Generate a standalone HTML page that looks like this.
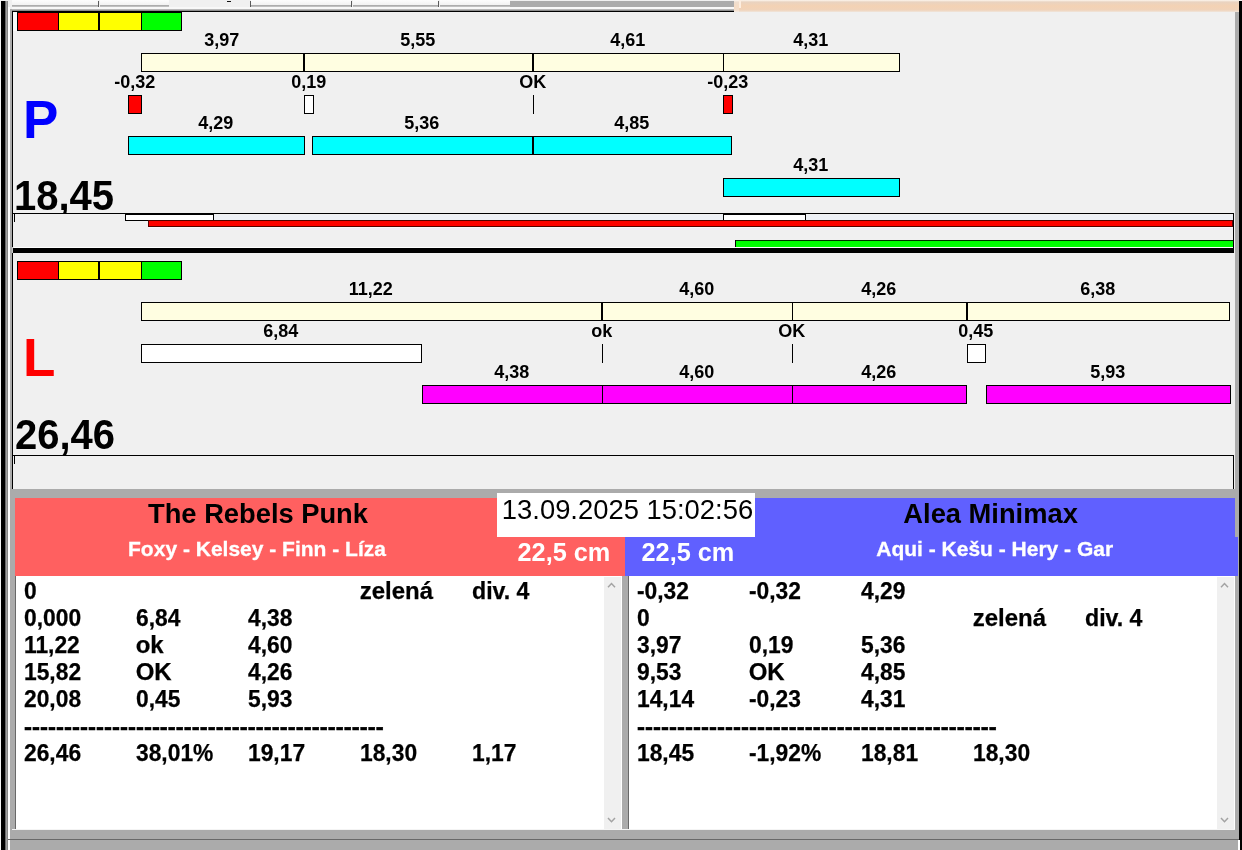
<!DOCTYPE html>
<html><head><meta charset="utf-8"><title>Flyball</title>
<style>
html,body{margin:0;padding:0}
body{width:1242px;height:850px;overflow:hidden;background:#f0f0f0;position:relative;font-family:"Liberation Sans",sans-serif;color:#000}
.a{position:absolute;box-sizing:content-box;white-space:nowrap}
.lb{font-weight:bold;font-size:18px;line-height:20px;text-align:center}
.big{font-weight:bold;font-size:53px;line-height:54px}
.tot{font-weight:bold;font-size:40px;line-height:44px;transform:scaleY(1.05);transform-origin:50% 60%}
.date{font-size:27.4px;line-height:34px}
.team{font-weight:bold;font-size:27.3px;line-height:32px}
.dogs{font-weight:bold;font-size:21px;line-height:24px;color:#fff;-webkit-text-stroke:0.3px #fff}

.cm{font-weight:bold;font-size:25.3px;line-height:28px;color:#fff}
.li{font-weight:bold;font-size:24px;line-height:27px;-webkit-text-stroke:0.25px #000}
.ds{-webkit-text-stroke:0.5px #000;margin-top:1px}
.nm{transform:scaleX(.95);transform-origin:0 0}
.nd{transform:scaleX(.965);transform-origin:0 0}
</style></head><body>
<div class="a" style="left:0px;top:0px;width:1242px;height:13px;background:#f0f0f0"></div>
<div class="a" style="left:12px;top:0;width:86px;height:5px;background:linear-gradient(#fdfdfd,#f2f2f2)"></div>
<div class="a" style="left:12px;top:5px;width:86px;height:1px;background:#adadad"></div>
<div class="a" style="left:12px;top:6px;width:86px;height:1px;background:#c0c0c0"></div>
<div class="a" style="left:100px;top:0;width:69px;height:5px;background:linear-gradient(#fdfdfd,#f2f2f2)"></div>
<div class="a" style="left:100px;top:5px;width:69px;height:1px;background:#adadad"></div>
<div class="a" style="left:100px;top:6px;width:69px;height:1px;background:#c0c0c0"></div>
<div class="a" style="left:251px;top:0;width:100px;height:5px;background:linear-gradient(#fdfdfd,#f2f2f2)"></div>
<div class="a" style="left:251px;top:5px;width:100px;height:1px;background:#adadad"></div>
<div class="a" style="left:251px;top:6px;width:100px;height:1px;background:#c0c0c0"></div>
<div class="a" style="left:353px;top:0;width:85px;height:5px;background:linear-gradient(#fdfdfd,#f2f2f2)"></div>
<div class="a" style="left:353px;top:5px;width:85px;height:1px;background:#adadad"></div>
<div class="a" style="left:353px;top:6px;width:85px;height:1px;background:#c0c0c0"></div>
<div class="a" style="left:440px;top:0;width:70px;height:5px;background:linear-gradient(#fdfdfd,#f2f2f2)"></div>
<div class="a" style="left:440px;top:5px;width:70px;height:1px;background:#adadad"></div>
<div class="a" style="left:440px;top:6px;width:70px;height:1px;background:#c0c0c0"></div>
<div class="a" style="left:98px;top:1px;width:1px;height:6px;background:#5a5a5a"></div>
<div class="a" style="left:250px;top:1px;width:1px;height:6px;background:#5a5a5a"></div>
<div class="a" style="left:351px;top:1px;width:1px;height:6px;background:#5a5a5a"></div>
<div class="a" style="left:438px;top:1px;width:1px;height:6px;background:#5a5a5a"></div>
<div class="a" style="left:227px;top:1px;width:4px;height:1px;background:#111"></div>
<div class="a" style="left:510px;top:1px;width:224px;height:6px;background:#ababab"></div>
<div class="a" style="left:12px;top:7px;width:722px;height:2px;background:#f8f8f8"></div>
<div class="a" style="left:12px;top:9px;width:722px;height:1px;background:#b8b8b8"></div>
<div class="a" style="left:12px;top:10px;width:722px;height:1px;background:#8c8c8c"></div>
<div class="a" style="left:12px;top:11px;width:722px;height:1px;background:#000"></div>
<div class="a" style="left:734px;top:0;width:505px;height:12px;background:linear-gradient(#fdf6ee 0px,#e9d3c0 2px,#f3d2b4 6px,#f0d3ba 10px,#f0e6dc 12px)"></div>
<div class="a" style="left:734px;top:0px;width:5px;height:12px;background:rgba(255,255,255,.25)"></div>
<div class="a" style="left:739px;top:0px;width:2px;height:8px;background:#fdeee0"></div>
<div class="a" style="left:0px;top:0px;width:1px;height:850px;background:#f4f4f4"></div>
<div class="a" style="left:1px;top:1px;width:4px;height:849px;background:#000"></div>
<div class="a" style="left:5px;top:1px;width:1px;height:849px;background:#6a6a6a"></div>
<div class="a" style="left:6px;top:1px;width:1px;height:849px;background:#a0a0a0"></div>
<div class="a" style="left:7px;top:1px;width:1px;height:849px;background:#888"></div>
<div class="a" style="left:8px;top:7px;width:2px;height:843px;background:#fff"></div>
<div class="a" style="left:10px;top:9px;width:2px;height:841px;background:#ababab"></div>
<div class="a" style="left:1235px;top:12px;width:4px;height:838px;background:#ababab"></div>
<div class="a" style="left:1239px;top:1px;width:3px;height:849px;background:#000"></div>
<div class="a" style="left:12px;top:11px;width:1px;height:478px;background:#000"></div>
<div class="a" style="left:13px;top:12px;width:4px;height:19px;background:#fafafa"></div>
<div class="a" style="left:17px;top:12px;width:163px;height:17px;background:#f0f0f0;border:1px solid #000;"></div>
<div class="a" style="left:18px;top:13px;width:40px;height:17px;background:#ff0000"></div>
<div class="a" style="left:59px;top:13px;width:40px;height:17px;background:#ffff00"></div>
<div class="a" style="left:58px;top:13px;width:1px;height:17px;background:#000"></div>
<div class="a" style="left:100px;top:13px;width:41px;height:17px;background:#ffff00"></div>
<div class="a" style="left:99px;top:13px;width:1px;height:17px;background:#000"></div>
<div class="a" style="left:142px;top:13px;width:39px;height:17px;background:#00ff00"></div>
<div class="a" style="left:141px;top:13px;width:1px;height:17px;background:#000"></div>
<div class="a" style="left:98px;top:13px;width:1px;height:17px;background:#000"></div>
<div class="a" style="left:141px;top:53px;width:757px;height:17px;background:#fffee1;border:1px solid #000;"></div>
<div class="a" style="left:303px;top:53px;width:2px;height:19px;background:#000"></div>
<div class="a" style="left:532px;top:53px;width:2px;height:19px;background:#000"></div>
<div class="a" style="left:723px;top:53px;width:1px;height:19px;background:#000"></div>
<div class="a lb" style="left:161.7px;top:30px;width:120px">3,97</div>
<div class="a lb" style="left:357.7px;top:30px;width:120px">5,55</div>
<div class="a lb" style="left:567.7px;top:30px;width:120px">4,61</div>
<div class="a lb" style="left:750.7px;top:30px;width:120px">4,31</div>
<div class="a" style="left:128px;top:95px;width:12px;height:17px;background:#ff0000;border:1px solid #000;"></div>
<div class="a" style="left:304px;top:95px;width:8px;height:17px;background:#fff;border:1px solid #000;"></div>
<div class="a" style="left:533px;top:95px;width:1px;height:19px;background:#000"></div>
<div class="a" style="left:723px;top:95px;width:8px;height:17px;background:#ff0000;border:1px solid #000;"></div>
<div class="a lb" style="left:74.7px;top:72px;width:120px">-0,32</div>
<div class="a lb" style="left:248.7px;top:72px;width:120px">0,19</div>
<div class="a lb" style="left:472.7px;top:72px;width:120px">OK</div>
<div class="a lb" style="left:667.7px;top:72px;width:120px">-0,23</div>
<div class="a" style="left:128px;top:136px;width:175px;height:17px;background:#00ffff;border:1px solid #000;"></div>
<div class="a" style="left:312px;top:136px;width:418px;height:17px;background:#00ffff;border:1px solid #000;"></div>
<div class="a" style="left:532px;top:136px;width:2px;height:19px;background:#000"></div>
<div class="a lb" style="left:155.7px;top:113px;width:120px">4,29</div>
<div class="a lb" style="left:361.7px;top:113px;width:120px">5,36</div>
<div class="a lb" style="left:571.7px;top:113px;width:120px">4,85</div>
<div class="a" style="left:723px;top:178px;width:175px;height:17px;background:#00ffff;border:1px solid #000;"></div>
<div class="a lb" style="left:750.7px;top:155px;width:120px">4,31</div>
<div class="a big" style="left:23px;top:93px;color:#0000ff">P</div>
<div class="a tot" style="left:14px;top:174px;">18,45</div>
<div class="a" style="left:12px;top:213px;width:1220px;height:34px;background:#f0f0f0;border:1px solid #000;"></div>
<div class="a" style="left:14px;top:214px;width:1px;height:8px;background:#000"></div>
<div class="a" style="left:125px;top:214px;width:87px;height:5px;background:#fff;border:1px solid #000;"></div>
<div class="a" style="left:723px;top:214px;width:81px;height:5px;background:#fff;border:1px solid #000;"></div>
<div class="a" style="left:148px;top:220px;width:1083px;height:5px;background:#ff0000;border:1px solid #500;"></div>
<div class="a" style="left:735px;top:240px;width:498px;height:7px;background:#00ff00"></div>
<div class="a" style="left:735px;top:240px;width:498px;height:1px;background:#003000"></div>
<div class="a" style="left:735px;top:240px;width:1px;height:7px;background:#000"></div>
<div class="a" style="left:14px;top:247px;width:1219px;height:1px;background:#fff"></div>
<div class="a" style="left:214px;top:215px;width:509px;height:5px;background:#edf0f5"></div>
<div class="a" style="left:806px;top:215px;width:427px;height:5px;background:#edf0f5"></div>
<div class="a" style="left:148px;top:227px;width:1085px;height:1px;background:#fcf6fc"></div>
<div class="a" style="left:148px;top:228px;width:1085px;height:2px;background:#f3edf5"></div>
<div class="a" style="left:13px;top:248px;width:1221px;height:5px;background:#000"></div>
<div class="a" style="left:12px;top:247px;width:1px;height:6px;background:#c8c8c8"></div>
<div class="a" style="left:17px;top:261px;width:163px;height:17px;background:#f0f0f0;border:1px solid #000;"></div>
<div class="a" style="left:18px;top:262px;width:40px;height:17px;background:#ff0000"></div>
<div class="a" style="left:59px;top:262px;width:40px;height:17px;background:#ffff00"></div>
<div class="a" style="left:58px;top:262px;width:1px;height:17px;background:#000"></div>
<div class="a" style="left:100px;top:262px;width:41px;height:17px;background:#ffff00"></div>
<div class="a" style="left:99px;top:262px;width:1px;height:17px;background:#000"></div>
<div class="a" style="left:142px;top:262px;width:39px;height:17px;background:#00ff00"></div>
<div class="a" style="left:141px;top:262px;width:1px;height:17px;background:#000"></div>
<div class="a" style="left:98px;top:262px;width:1px;height:17px;background:#000"></div>
<div class="a" style="left:141px;top:302px;width:1087px;height:17px;background:#fffee1;border:1px solid #000;"></div>
<div class="a" style="left:601px;top:302px;width:2px;height:19px;background:#000"></div>
<div class="a" style="left:792px;top:302px;width:1px;height:19px;background:#000"></div>
<div class="a" style="left:966px;top:302px;width:2px;height:19px;background:#000"></div>
<div class="a lb" style="left:310.7px;top:279px;width:120px">11,22</div>
<div class="a lb" style="left:636.7px;top:279px;width:120px">4,60</div>
<div class="a lb" style="left:818.7px;top:279px;width:120px">4,26</div>
<div class="a lb" style="left:1037.7px;top:279px;width:120px">6,38</div>
<div class="a" style="left:141px;top:344px;width:279px;height:17px;background:#fff;border:1px solid #000;"></div>
<div class="a" style="left:602px;top:344px;width:1px;height:19px;background:#000"></div>
<div class="a" style="left:792px;top:344px;width:1px;height:19px;background:#000"></div>
<div class="a" style="left:967px;top:344px;width:17px;height:17px;background:#fff;border:1px solid #000;"></div>
<div class="a lb" style="left:220.7px;top:321px;width:120px">6,84</div>
<div class="a lb" style="left:541.7px;top:321px;width:120px">ok</div>
<div class="a lb" style="left:731.7px;top:321px;width:120px">OK</div>
<div class="a lb" style="left:915.7px;top:321px;width:120px">0,45</div>
<div class="a" style="left:422px;top:385px;width:543px;height:17px;background:#ff00ff;border:1px solid #000;"></div>
<div class="a" style="left:602px;top:385px;width:1px;height:19px;background:#000"></div>
<div class="a" style="left:792px;top:385px;width:1px;height:19px;background:#000"></div>
<div class="a" style="left:986px;top:385px;width:243px;height:17px;background:#ff00ff;border:1px solid #000;"></div>
<div class="a lb" style="left:451.7px;top:362px;width:120px">4,38</div>
<div class="a lb" style="left:636.7px;top:362px;width:120px">4,60</div>
<div class="a lb" style="left:818.7px;top:362px;width:120px">4,26</div>
<div class="a lb" style="left:1047.7px;top:362px;width:120px">5,93</div>
<div class="a big" style="left:23px;top:331px;color:#ff0000">L</div>
<div class="a tot" style="left:15px;top:413px;">26,46</div>
<div class="a" style="left:12px;top:455px;width:1220px;height:33px;background:#f0f0f0;border:1px solid #000;"></div>
<div class="a" style="left:14px;top:456px;width:1px;height:8px;background:#000"></div>
<div class="a" style="left:10px;top:489px;width:1225px;height:361px;background:#ababab"></div>
<div class="a" style="left:8px;top:489px;width:2px;height:361px;background:#fff"></div>
<div class="a" style="left:15px;top:498px;width:610px;height:78px;background:#ff6060"></div>
<div class="a" style="left:625px;top:498px;width:610px;height:78px;background:#6060ff"></div>
<div class="a" style="left:1235px;top:537px;width:3px;height:39px;background:#6060ff"></div>
<div class="a" style="left:497px;top:493px;width:258px;height:44px;background:#fff"></div>
<div class="a date" style="left:498.5px;top:493px;width:258px;text-align:center">13.09.2025 15:02:56</div>
<div class="a team" style="left:15px;top:498px;width:486px;text-align:center">The Rebels Punk</div>
<div class="a team" style="left:755.6px;top:498px;width:470px;text-align:center">Alea Minimax</div>
<div class="a dogs" style="left:15px;top:537px;width:484px;text-align:center">Foxy - Kelsey - Finn - Líza</div>
<div class="a dogs" style="left:759.7px;top:537px;width:470px;text-align:center">Aqui - Kešu - Hery - Gar</div>
<div class="a cm" style="left:517.5px;top:538px;">22,5 cm</div>
<div class="a cm" style="left:641.5px;top:538px;">22,5 cm</div>
<div class="a" style="left:15px;top:576px;width:606px;height:253px;background:#fff"></div>
<div class="a" style="left:15px;top:576px;width:1px;height:253px;background:#696969"></div>
<div class="a" style="left:604px;top:577px;width:17px;height:252px;background:#f0f0f0"></div>
<svg class="a" style="left:604px;top:577px" width="17" height="252" viewBox="0 0 17 252"><path d="M4 10.3 L7.5 6.6 L11 10.3" fill="none" stroke="#a3a3a3" stroke-width="1.5"/><path d="M4 241 L7.5 244.7 L11 241" fill="none" stroke="#a3a3a3" stroke-width="1.5"/></svg>
<div class="a li nm" style="left:23.7px;top:577px;">0</div>
<div class="a li" style="left:359.7px;top:577px;">zelená</div>
<div class="a li nd" style="left:471.7px;top:577px;">div. 4</div>
<div class="a li nm" style="left:23.7px;top:604px;">0,000</div>
<div class="a li nm" style="left:135.7px;top:604px;">6,84</div>
<div class="a li nm" style="left:247.7px;top:604px;">4,38</div>
<div class="a li nm" style="left:23.7px;top:631px;">11,22</div>
<div class="a li" style="left:135.7px;top:631px;">ok</div>
<div class="a li nm" style="left:247.7px;top:631px;">4,60</div>
<div class="a li nm" style="left:23.7px;top:658px;">15,82</div>
<div class="a li" style="left:135.7px;top:658px;">OK</div>
<div class="a li nm" style="left:247.7px;top:658px;">4,26</div>
<div class="a li nm" style="left:23.7px;top:685px;">20,08</div>
<div class="a li nm" style="left:135.7px;top:685px;">0,45</div>
<div class="a li nm" style="left:247.7px;top:685px;">5,93</div>
<div class="a li ds" style="left:24px;top:712px;">---------------------------------------------</div>
<div class="a li nm" style="left:23.7px;top:739px;">26,46</div>
<div class="a li nm" style="left:135.7px;top:739px;">38,01%</div>
<div class="a li nm" style="left:247.7px;top:739px;">19,17</div>
<div class="a li nm" style="left:359.7px;top:739px;">18,30</div>
<div class="a li nm" style="left:471.7px;top:739px;">1,17</div>
<div class="a" style="left:628px;top:576px;width:606px;height:253px;background:#fff"></div>
<div class="a" style="left:628px;top:576px;width:1px;height:253px;background:#696969"></div>
<div class="a" style="left:1217px;top:577px;width:17px;height:252px;background:#f0f0f0"></div>
<svg class="a" style="left:1217px;top:577px" width="17" height="252" viewBox="0 0 17 252"><path d="M4 10.3 L7.5 6.6 L11 10.3" fill="none" stroke="#a3a3a3" stroke-width="1.5"/><path d="M4 241 L7.5 244.7 L11 241" fill="none" stroke="#a3a3a3" stroke-width="1.5"/></svg>
<div class="a li nm" style="left:636.7px;top:577px;">-0,32</div>
<div class="a li nm" style="left:748.7px;top:577px;">-0,32</div>
<div class="a li nm" style="left:860.7px;top:577px;">4,29</div>
<div class="a li nm" style="left:636.7px;top:604px;">0</div>
<div class="a li" style="left:972.7px;top:604px;">zelená</div>
<div class="a li nd" style="left:1084.7px;top:604px;">div. 4</div>
<div class="a li nm" style="left:636.7px;top:631px;">3,97</div>
<div class="a li nm" style="left:748.7px;top:631px;">0,19</div>
<div class="a li nm" style="left:860.7px;top:631px;">5,36</div>
<div class="a li nm" style="left:636.7px;top:658px;">9,53</div>
<div class="a li" style="left:748.7px;top:658px;">OK</div>
<div class="a li nm" style="left:860.7px;top:658px;">4,85</div>
<div class="a li nm" style="left:636.7px;top:685px;">14,14</div>
<div class="a li nm" style="left:748.7px;top:685px;">-0,23</div>
<div class="a li nm" style="left:860.7px;top:685px;">4,31</div>
<div class="a li ds" style="left:637px;top:712px;">---------------------------------------------</div>
<div class="a li nm" style="left:636.7px;top:739px;">18,45</div>
<div class="a li nm" style="left:748.7px;top:739px;">-1,92%</div>
<div class="a li nm" style="left:860.7px;top:739px;">18,81</div>
<div class="a li nm" style="left:972.7px;top:739px;">18,30</div>
<div class="a" style="left:621px;top:576px;width:1px;height:253px;background:#fff"></div>
<div class="a" style="left:1234px;top:576px;width:1px;height:253px;background:#fff"></div>
<div class="a" style="left:12px;top:829px;width:1223px;height:1px;background:#f4f4f4"></div>
<div class="a" style="left:8px;top:839px;width:1231px;height:1px;background:#696969"></div>
<div class="a" style="left:1238px;top:840px;width:2px;height:10px;background:#fff"></div>
</body></html>
